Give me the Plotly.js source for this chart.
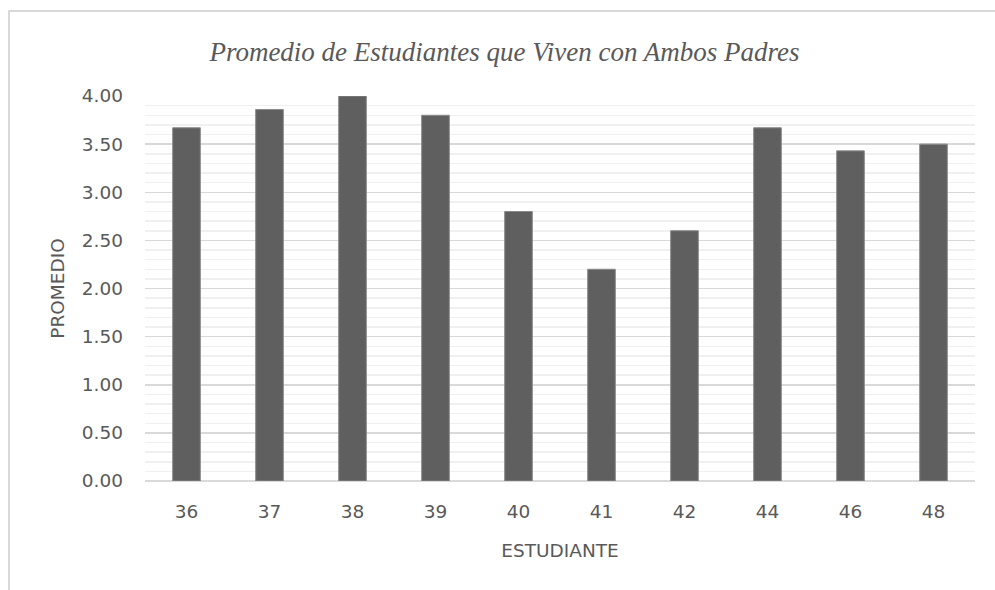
<!DOCTYPE html>
<html>
<head>
<meta charset="utf-8">
<script src="https://cdn.plot.ly/plotly-3.0.1.min.js"></script>
<style>
  html, body { margin: 0; padding: 0; background: #ffffff; }
  #chart { position: absolute; left: 0; top: 0; width: 995px; height: 590px; }
  #frame { position: absolute; left: 8px; top: 10px; right: 0; bottom: 0;
           border-left: 2px solid #d9d9d9; border-top: 2px solid #d9d9d9;
           pointer-events: none; }
</style>
</head>
<body>
<div id="chart"></div>
<div id="frame"></div>
<script>
const estudiantes = ['36', '37', '38', '39', '40', '41', '42', '44', '46', '48'];
const promedios = [3.67, 3.86, 4.00, 3.80, 2.80, 2.20, 2.60, 3.67, 3.43, 3.50];
const yTickVals = [0, 0.5, 1, 1.5, 2, 2.5, 3, 3.5, 4];
const yTickText = ['0.00', '0.50', '1.00', '1.50', '2.00', '2.50', '3.00', '3.50', '4.00'];

const textColor = '#595959';
const tickFont = { family: 'DejaVu Sans, sans-serif', size: 18.5, color: textColor };

const trace = {
  type: 'bar',
  x: estudiantes,
  y: promedios,
  marker: { color: '#5f5f5f', line: { color: '#8a8a8a', width: 1 } },
  hoverinfo: 'x+y'
};

const layout = {
  width: 995,
  height: 590,
  margin: { l: 145, r: 20, t: 96, b: 109 },
  paper_bgcolor: '#ffffff',
  plot_bgcolor: '#ffffff',
  showlegend: false,
  bargap: 0.667,
  title: {
    text: 'Promedio de Estudiantes que Viven con Ambos Padres',
    font: { family: 'Liberation Serif, serif', size: 27, color: textColor, style: 'italic' },
    x: 0.507, xref: 'container', xanchor: 'center',
    y: 0.913, yref: 'container', yanchor: 'middle'
  },
  xaxis: {
    type: 'category',
    tickfont: tickFont,
    showgrid: false,
    showline: false,
    zeroline: false,
    ticks: '',
    ticklabelstandoff: 17,
    title: { text: 'ESTUDIANTE', font: tickFont, standoff: 23 },
    automargin: false
  },
  yaxis: {
    range: [0, 4],
    tickvals: yTickVals,
    ticktext: yTickText,
    tickfont: tickFont,
    showgrid: true,
    gridcolor: '#d9d9d9',
    gridwidth: 1.5,
    zeroline: true,
    zerolinecolor: '#d9d9d9',
    zerolinewidth: 1.5,
    showline: false,
    ticks: '',
    ticklabelstandoff: 21,
    minor: { dtick: 0.1, showgrid: true, gridcolor: '#f0f0f0', gridwidth: 1.5, ticks: '' },
    title: { text: 'PROMEDIO', font: tickFont, standoff: 12 },
    automargin: false,
    fixedrange: true
  }
};

Plotly.newPlot('chart', [trace], layout, { displayModeBar: false, staticPlot: true });
</script>
</body>
</html>
